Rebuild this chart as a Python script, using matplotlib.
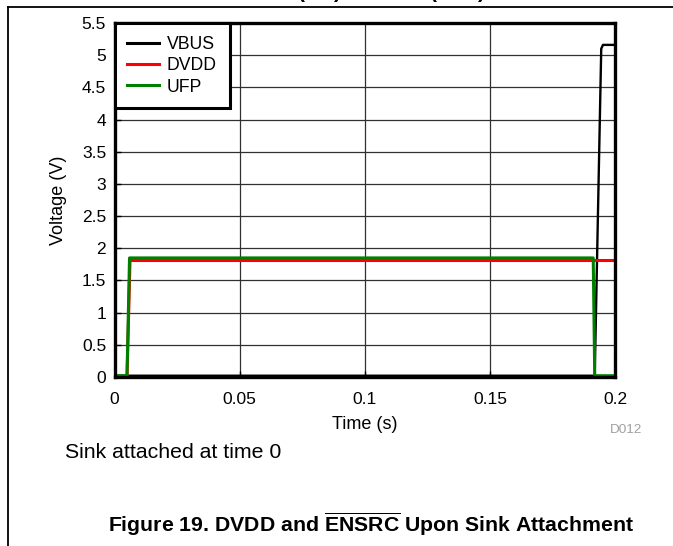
import matplotlib
matplotlib.use("Agg")
import matplotlib.pyplot as plt
from matplotlib.lines import Line2D

plt.rcParams['font.family'] = ['Liberation Sans', 'DejaVu Sans']
plt.rcParams['mathtext.fontset'] = 'custom'
plt.rcParams['mathtext.rm'] = 'Liberation Sans'
plt.rcParams['mathtext.bf'] = 'Liberation Sans:bold'
plt.rcParams['mathtext.it'] = 'Liberation Sans:italic'

# ---- data ----
t_vbus = [0.0, 0.1919, 0.1945, 0.1952, 0.2]
v_vbus = [0.02, 0.02, 5.10, 5.16, 5.16]

t_dvdd = [0.0, 0.0050, 0.0062, 0.2]
v_dvdd = [0.0, 0.0, 1.81, 1.81]

t_ufp = [0.0, 0.0050, 0.0060, 0.1913, 0.1919, 0.2]
v_ufp = [0.02, 0.02, 1.85, 1.85, 0.02, 0.02]

series_names = ["VBUS", "DVDD", "UFP"]
series_colors = ["#000000", "#ff0000", "#008000"]

x_ticks = [0, 0.05, 0.1, 0.15, 0.2]
x_tick_labels = ["0", "0.05", "0.1", "0.15", "0.2"]
y_ticks = [0, 0.5, 1, 1.5, 2, 2.5, 3, 3.5, 4, 4.5, 5, 5.5]
y_tick_labels = ["0", "0.5", "1", "1.5", "2", "2.5", "3", "3.5", "4", "4.5", "5", "5.5"]

W, H = 673, 546
fig = plt.figure(figsize=(W / 100, H / 100), dpi=100)

ax_l, ax_r, ax_t, ax_b = 114.5, 615.0, 23.0, 377.0
ax = fig.add_axes([ax_l / W, 1 - ax_b / H, (ax_r - ax_l) / W, (ax_b - ax_t) / H])

ax.plot(t_vbus, v_vbus, color=series_colors[0], lw=1.7, label=series_names[0], zorder=3)
ax.plot(t_dvdd, v_dvdd, color=series_colors[1], lw=2.2, label=series_names[1], zorder=4)
ax.plot(t_ufp, v_ufp, color=series_colors[2], lw=2.2, label=series_names[2], zorder=5)

ax.set_xlim(0, 0.2)
ax.set_ylim(0, 5.5)
ax.set_xticks(x_ticks)
ax.set_xticklabels(x_tick_labels)
ax.set_yticks(y_ticks)
ax.set_yticklabels(y_tick_labels)
ax.tick_params(direction='in', length=4, width=1, labelsize=12.5)
ax.tick_params(axis='x', pad=11)
ax.tick_params(axis='y', pad=6)
ax.grid(True, color='#303030', lw=0.9)
ax.set_axisbelow(True)
for s in ax.spines.values():
    s.set_linewidth(2.4)
    s.set_zorder(6)

ax.set_xlabel("Time (s)", fontsize=13, labelpad=6)
ax.set_ylabel("Voltage (V)", fontsize=13, labelpad=11)

handles = [Line2D([], [], color=c, lw=2.2) for c in series_colors]
leg = ax.legend(handles, series_names, loc='upper left', bbox_to_anchor=(0, 1),
                borderaxespad=0, fontsize=12.7, frameon=True, fancybox=False,
                framealpha=1, edgecolor='black', handlelength=1.8,
                handletextpad=0.45, borderpad=0.72, labelspacing=0.25)
leg.get_frame().set_linewidth(2.2)
leg.set_zorder(10)

fig.text(626 / W, 1 - 430 / H, "D012", fontsize=9.7, color='#a0a0a0',
         ha='center', va='center')
fig.text(65 / W, 1 - 452 / H, "Sink attached at time 0", fontsize=15.3,
         ha='left', va='center')
fig.text(371 / W, 1 - 524 / H,
         r"Figure 19. DVDD and $\overline{\mathbf{ENSRC}}$ Upon Sink Attachment",
         fontsize=15.3, fontweight='bold', ha='center', va='center')

# cropped header text remnants (bottoms of parentheses), as in the reference
for xp, ch in [(298, "("), (334, ")"), (430, "("), (478, ")")]:
    fig.text(xp / W, 1 + 1.5 / H, ch, fontsize=15, fontweight='bold',
             ha='left', va='baseline')

# page frame lines
fig.add_artist(Line2D([8 / W, 1], [1 - 7 / H, 1 - 7 / H], color='black', lw=1.3,
                      transform=fig.transFigure))
fig.add_artist(Line2D([8 / W, 8 / W], [1 - 7 / H, 0], color='black', lw=1.3,
                      transform=fig.transFigure))

fig.savefig("out.png", dpi=100)
